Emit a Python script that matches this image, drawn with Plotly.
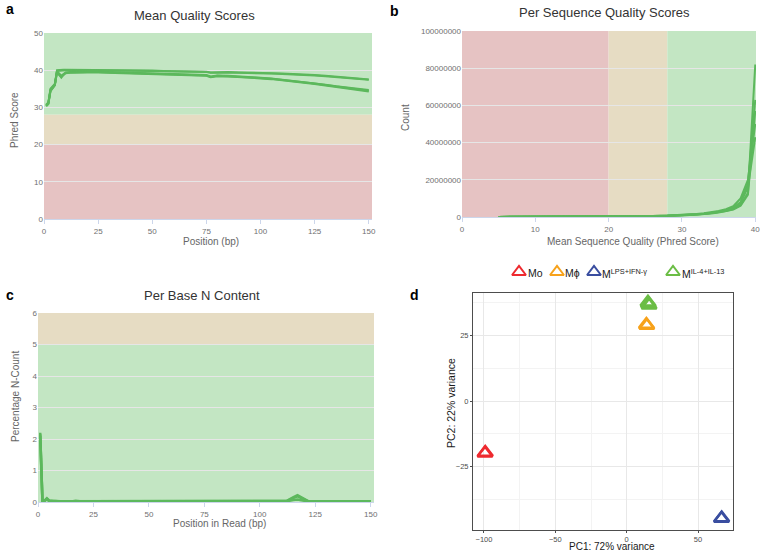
import plotly.graph_objects as go

W, H = 760, 552
def PX(x): return x / W
def PY(y): return 1 - y / H

FONT = "Liberation Sans, Arial, Helvetica, sans-serif"
LINE_GREEN = "#5cb85c"
BAND_GREEN = "#c3e6c3"
BAND_ORANGE = "#e6dcc3"
BAND_RED = "#e6c3c3"

# ---------------- Panel a: Mean quality scores ----------------
pos_a = [1, 2, 3, 4, 5, 6, 7, 8, 9, 10, 12, 15, 20, 25, 30, 35, 40, 45, 50, 55, 60, 65, 70, 75, 77, 80,
         85, 90, 95, 100, 105, 110, 115, 120, 125, 130, 135, 140, 145, 150]
qual_upper1 = [30.6, 31.2, 34.8, 35.6, 36.2, 40.0, 40.1, 40.1, 40.1, 40.1, 40.1, 40.1, 40.1, 40.1, 40.0, 40.0,
               39.9, 39.9, 39.9, 39.8, 39.8, 39.7, 39.7, 39.6, 39.4, 39.5, 39.5, 39.4, 39.4, 39.3, 39.2, 39.1,
               39.0, 38.9, 38.7, 38.5, 38.3, 38.1, 37.8, 37.5]
qual_upper2 = [30.4, 31.0, 34.5, 35.4, 36.0, 39.8, 39.9, 39.9, 40.0, 40.0, 40.0, 40.0, 40.0, 40.0, 39.9, 39.9,
               39.9, 39.8, 39.8, 39.7, 39.7, 39.6, 39.6, 39.5, 39.3, 39.4, 39.4, 39.3, 39.3, 39.2, 39.1, 39.0,
               38.9, 38.8, 38.6, 38.4, 38.2, 38.0, 37.7, 37.4]
qual_lower1 = [30.5, 31.1, 34.6, 35.5, 36.1, 39.5, 38.6, 38.0, 38.8, 39.3, 39.4, 39.5, 39.5, 39.5, 39.4, 39.3,
               39.2, 39.1, 39.0, 38.9, 38.9, 38.8, 38.7, 38.6, 38.2, 38.5, 38.4, 38.3, 38.1, 37.9, 37.7, 37.4,
               37.1, 36.8, 36.4, 36.0, 35.6, 35.2, 34.9, 34.5]
qual_lower2 = [30.7, 31.3, 35.0, 35.8, 36.3, 39.7, 39.0, 38.5, 39.0, 39.4, 39.5, 39.6, 39.6, 39.6, 39.5, 39.4,
               39.3, 39.2, 39.1, 39.0, 39.0, 38.9, 38.8, 38.7, 38.3, 38.6, 38.5, 38.4, 38.2, 38.0, 37.8, 37.5,
               37.2, 36.9, 36.5, 36.1, 35.7, 35.4, 35.0, 34.7]
qual_lower3 = [30.3, 30.9, 34.4, 35.3, 35.9, 39.4, 38.8, 38.2, 38.7, 39.2, 39.3, 39.4, 39.4, 39.4, 39.3, 39.2,
               39.1, 39.0, 38.9, 38.8, 38.8, 38.7, 38.6, 38.5, 38.1, 38.4, 38.3, 38.2, 38.0, 37.8, 37.6, 37.3,
               37.0, 36.7, 36.3, 35.9, 35.5, 35.1, 34.7, 34.3]
qual_series = [qual_upper1, qual_upper2, qual_lower1, qual_lower2, qual_lower3]

# ---------------- Panel b: Per sequence quality ----------------
phred_b = [5, 10, 15, 20, 22, 24, 26, 28, 30, 31, 32, 33, 34, 35, 36, 37, 38, 39, 40]
count_s1 = [0.05, 0.1, 0.15, 0.25, 0.3, 0.4, 0.5, 0.7, 0.9, 1.1, 1.3, 1.6, 2.0, 2.5, 3.2, 4.3, 6.5, 13, 82]
count_s2 = [0.05, 0.1, 0.15, 0.25, 0.3, 0.4, 0.5, 0.7, 1.0, 1.2, 1.4, 1.8, 2.2, 2.8, 3.6, 5.0, 8.0, 18, 63]
count_s3 = [0.04, 0.08, 0.12, 0.2, 0.25, 0.35, 0.45, 0.6, 0.8, 1.0, 1.2, 1.5, 1.9, 2.4, 3.0, 4.0, 6.0, 12, 57]
count_s4 = [0.05, 0.1, 0.15, 0.25, 0.3, 0.4, 0.55, 0.75, 1.0, 1.3, 1.6, 2.0, 2.5, 3.2, 4.2, 5.8, 10.0, 20, 50]
count_s5 = [0.05, 0.1, 0.15, 0.25, 0.3, 0.4, 0.5, 0.7, 0.9, 1.1, 1.4, 1.7, 2.1, 2.7, 3.5, 4.8, 7.5, 16, 43]
count_series_millions = [count_s1, count_s2, count_s3, count_s4, count_s5]

# ---------------- Panel c: Per base N content ----------------
pos_c = [1, 2, 3, 4, 5, 6, 7, 8, 9, 10, 15, 17, 20, 25, 27, 30, 40, 50, 60, 70, 80, 90, 100, 105, 110, 112,
         115, 117, 120, 122, 125, 130, 140, 143, 145, 150]
ncont_1 = [2.2, 0.03, 0.05, 0.12, 0.05, 0.03, 0.03, 0.03, 0.02, 0.02, 0.02, 0.04, 0.02, 0.02, 0.04, 0.02, 0.02,
           0.02, 0.02, 0.02, 0.02, 0.02, 0.02, 0.02, 0.02, 0.03, 0.15, 0.22, 0.10, 0.02, 0.02, 0.02, 0.02, 0.04,
           0.02, 0.02]
ncont_2 = [2.15, 0.03, 0.04, 0.10, 0.04, 0.03, 0.03, 0.02, 0.02, 0.02, 0.02, 0.03, 0.02, 0.02, 0.03, 0.02, 0.02,
           0.02, 0.02, 0.02, 0.02, 0.02, 0.02, 0.02, 0.02, 0.03, 0.12, 0.18, 0.08, 0.02, 0.02, 0.02, 0.02, 0.03,
           0.02, 0.02]
ncont_3 = [2.1, 0.02, 0.04, 0.08, 0.03, 0.02, 0.02, 0.02, 0.02, 0.02, 0.02, 0.02, 0.02, 0.02, 0.02, 0.02, 0.02,
           0.02, 0.02, 0.02, 0.02, 0.02, 0.02, 0.02, 0.02, 0.02, 0.06, 0.08, 0.04, 0.02, 0.02, 0.02, 0.02, 0.02,
           0.02, 0.02]
ncont_series = [ncont_1, ncont_2, ncont_3]

# ---------------- Panel d: PCA ----------------
pca_groups = ["Mo", "Mϕ", "M<sup>LPS+IFN-γ</sup>", "M<sup>IL-4+IL-13</sup>"]
pca_colors = ["#ee2a2f", "#f7a21b", "#3a4ea0", "#6bbd45"]
pca_pc1 = [[-99.3, -99.1], [13.8, 14.1], [66.4, 66.6], [15.2, 15.7, 14.9]]
pca_pc2 = [[-19.9, -19.6], [29.2, 28.8], [-44.7, -44.5], [37.2, 36.5, 37.7]]

# legend key layout (pixel positions of key centre / label start in the legend strip)
legend_key_px = [519, 557, 594, 673]
legend_text_px = [526, 563, 600, 680]
legend_y_px = 272

fig = go.Figure()

for s in qual_series:
    fig.add_trace(go.Scatter(x=pos_a, y=s, mode="lines", line=dict(color=LINE_GREEN, width=2),
                             showlegend=False, xaxis="x", yaxis="y", hoverinfo="skip"))
for s in count_series_millions:
    fig.add_trace(go.Scatter(x=phred_b, y=[v * 1e6 for v in s], mode="lines",
                             line=dict(color=LINE_GREEN, width=2),
                             showlegend=False, xaxis="x2", yaxis="y2", hoverinfo="skip"))
for s in ncont_series:
    fig.add_trace(go.Scatter(x=pos_c, y=s, mode="lines", line=dict(color=LINE_GREEN, width=2.5),
                             showlegend=False, xaxis="x3", yaxis="y3", hoverinfo="skip"))
for name, col, xs, ys in zip(pca_groups, pca_colors, pca_pc1, pca_pc2):
    fig.add_trace(go.Scatter(x=xs, y=ys, mode="markers", name=name, showlegend=False,
                             marker=dict(symbol="triangle-up-open", size=13, color=col,
                                         line=dict(color=col, width=2.5)),
                             xaxis="x4", yaxis="y4"))
# custom legend keys on an invisible full-page pixel axis
fig.add_trace(go.Scatter(x=legend_key_px, y=[legend_y_px] * len(legend_key_px), mode="markers",
                         marker=dict(symbol="triangle-up-open", size=12, color=pca_colors,
                                     line=dict(color=pca_colors, width=2)),
                         showlegend=False, hoverinfo="skip", xaxis="x5", yaxis="y5"))

tickfont_hc = dict(family=FONT, size=8, color="#707070")
hc_x = dict(showgrid=False, zeroline=False, showline=True, linecolor="#ccd6eb", linewidth=1,
            ticks="outside", tickcolor="#ccd6eb", ticklen=4, tickfont=tickfont_hc, automargin=False,
            ticklabeloverflow="allow")
hc_y = dict(showgrid=True, gridcolor="#e6e6e6", gridwidth=1, zeroline=False, showline=False,
            ticks="", tickfont=tickfont_hc, automargin=False)

d_grid_minor = dict(showgrid=True, gridcolor="#f3f3f3", gridwidth=0.6)
fig.update_layout(
    width=W, height=H, autosize=False,
    margin=dict(l=0, r=0, t=0, b=0, pad=0, autoexpand=False),
    paper_bgcolor="white", plot_bgcolor="rgba(0,0,0,0)",
    font=dict(family=FONT),
    showlegend=False,
    xaxis=dict(domain=[PX(44), PX(372)], range=[0, 151.5], tickvals=[0, 25, 50, 75, 100, 125, 150],
               anchor="y", **hc_x),
    yaxis=dict(domain=[PY(219), PY(33)], range=[0, 50], dtick=10, anchor="x", **hc_y),
    xaxis2=dict(domain=[PX(462), PX(756)], range=[0, 40.1], tickvals=[0, 10, 20, 30, 40],
                anchor="y2", **hc_x),
    yaxis2=dict(domain=[PY(217), PY(31)], range=[0, 1e8], dtick=2e7, tickformat="d",
                anchor="x2", **hc_y),
    xaxis3=dict(domain=[PX(38), PX(374)], range=[0, 151.5], tickvals=[0, 25, 50, 75, 100, 125, 150],
                anchor="y3", **hc_x),
    yaxis3=dict(domain=[PY(502), PY(313)], range=[0, 6], dtick=1, anchor="x3", **hc_y),
    xaxis4=dict(domain=[PX(473), PX(733)], range=[-107.7, 74.5], tickvals=[-100, -50, 0, 50],
                showgrid=True, gridcolor="#e8e8e8", gridwidth=1.1, zeroline=False,
                showline=True, mirror=True, linecolor="#4d4d4d", linewidth=1,
                ticks="outside", ticklen=2, tickcolor="#4d4d4d",
                tickfont=dict(family=FONT, size=7.5, color="#4d4d4d"),
                minor=dict(tickvals=[-75, -25, 25], ticks="", **d_grid_minor),
                anchor="y4", automargin=False),
    yaxis4=dict(domain=[PY(530), PY(293)], range=[-49.1, 41.2], tickvals=[-25, 0, 25],
                showgrid=True, gridcolor="#e8e8e8", gridwidth=1.1, zeroline=False,
                showline=True, mirror=True, linecolor="#4d4d4d", linewidth=1,
                ticks="outside", ticklen=2, tickcolor="#4d4d4d",
                tickfont=dict(family=FONT, size=7.5, color="#4d4d4d"),
                minor=dict(tickvals=[-37.5, -12.5, 12.5, 37.5], ticks="", **d_grid_minor),
                anchor="x4", automargin=False),
    xaxis5=dict(domain=[0, 1], range=[0, W], visible=False, fixedrange=True, anchor="y5"),
    yaxis5=dict(domain=[0, 1], range=[H, 0], visible=False, fixedrange=True, anchor="x5"),
)

shapes = []
for y0, y1, c in [(28, 50, BAND_GREEN), (20, 28, BAND_ORANGE), (0, 20, BAND_RED)]:
    shapes.append(dict(type="rect", xref="x domain", yref="y", x0=0, x1=1, y0=y0, y1=y1,
                       fillcolor=c, line=dict(width=0), layer="below"))
for x0, x1, c in [(0, 20, BAND_RED), (20, 28, BAND_ORANGE), (28, 40.1, BAND_GREEN)]:
    shapes.append(dict(type="rect", xref="x2", yref="y2 domain", x0=x0, x1=x1, y0=0, y1=1,
                       fillcolor=c, line=dict(width=0), layer="below"))
for y0, y1, c in [(0, 5, BAND_GREEN), (5, 6, BAND_ORANGE)]:
    shapes.append(dict(type="rect", xref="x3 domain", yref="y3", x0=0, x1=1, y0=y0, y1=y1,
                       fillcolor=c, line=dict(width=0), layer="below"))
fig.update_layout(shapes=shapes)

ann = []
def A(text, x, y, size, color, bold=False, angle=0, xanchor="center"):
    t = f"<b>{text}</b>" if bold else text
    ann.append(dict(text=t, x=PX(x), y=PY(y), xref="paper", yref="paper", showarrow=False,
                    xanchor=xanchor, yanchor="middle", textangle=angle,
                    font=dict(family=FONT, size=size, color=color)))

A("a", 4, 9, 14, "#000", bold=True, xanchor="left")
A("b", 388, 11, 14, "#000", bold=True, xanchor="left")
A("c", 4, 295, 14, "#000", bold=True, xanchor="left")
A("d", 408, 295, 14, "#000", bold=True, xanchor="left")
A("Mean Quality Scores", 194, 15, 13, "#333333")
A("Per Sequence Quality Scores", 604, 13, 13, "#333333")
A("Per Base N Content", 202, 295, 13, "#333333")
A("Position (bp)", 211, 241, 10, "#666666")
A("Phred Score", 15, 120, 10, "#666666", angle=-90)
A("Mean Sequence Quality (Phred Score)", 633, 241, 10, "#666666")
A("Count", 405, 118, 10, "#666666", angle=-90)
A("Position in Read (bp)", 219, 523, 10, "#666666")
A("Percentage N-Count", 15, 397, 10, "#666666", angle=-90)
A("PC1: 72% variance", 612, 546.5, 10, "#1a1a1a")
A("PC2: 22% variance", 451, 403, 10.5, "#1a1a1a", angle=-90)
# legend labels
for name, tx in zip(pca_groups, legend_text_px):
    A(name, tx, legend_y_px + 1, 10.5, "#1a1a1a", xanchor="left")
fig.update_layout(annotations=ann)

fig.write_html("out.html")
